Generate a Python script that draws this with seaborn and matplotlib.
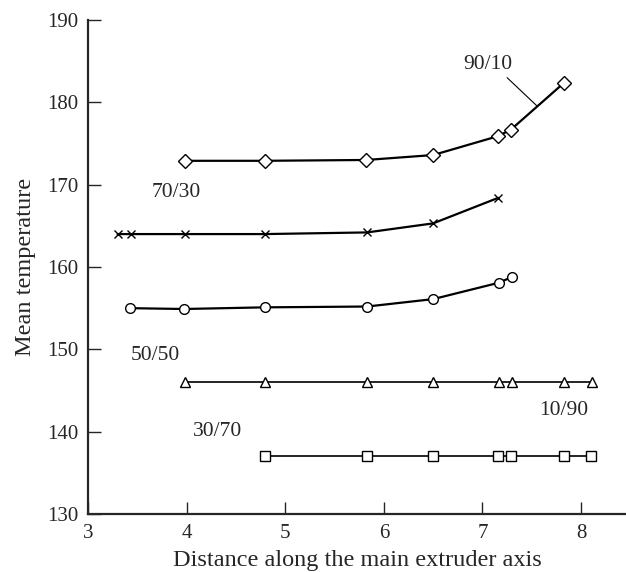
import matplotlib
matplotlib.use("Agg")
import matplotlib.pyplot as plt
import seaborn as sns
import pandas as pd

# ---- data ----
x_9010 = [3.98, 4.79, 5.82, 6.50, 7.16, 7.29, 7.83]
y_9010 = [172.9, 172.9, 173.0, 173.6, 175.9, 176.7, 182.4]

x_7030 = [3.30, 3.44, 3.98, 4.79, 5.83, 6.50, 7.16]
y_7030 = [164.0, 164.0, 164.0, 164.0, 164.2, 165.3, 168.4]

x_5050 = [3.43, 3.97, 4.79, 5.83, 6.50, 7.17, 7.30]
y_5050 = [155.0, 154.9, 155.1, 155.2, 156.1, 158.1, 158.8]

x_1090 = [3.98, 4.79, 5.83, 6.50, 7.17, 7.30, 7.83, 8.11]
y_1090 = [146.0, 146.0, 146.0, 146.0, 146.0, 146.0, 146.0, 146.0]

x_3070 = [4.79, 5.83, 6.50, 7.16, 7.29, 7.83, 8.10]
y_3070 = [137.0, 137.0, 137.0, 137.0, 137.0, 137.0, 137.0]

series_names = ["90/10", "70/30", "50/50", "10/90", "30/70"]
series_markers = ["D", "x", "o", "^", "s"]

y_ticks = [130, 140, 150, 160, 170, 180, 190]
x_ticks = [3, 4, 5, 6, 7, 8]

sns.set_style("ticks")
plt.rcParams["font.family"] = ["Liberation Serif", "DejaVu Serif"]
plt.rcParams["font.size"] = 15

fig = plt.figure(figsize=(6.26, 5.72), dpi=100)
ax = fig.add_axes([0.1406, 0.1014, 0.8594, 0.8636])

data = {
    "90/10": (x_9010, y_9010),
    "70/30": (x_7030, y_7030),
    "50/50": (x_5050, y_5050),
    "10/90": (x_1090, y_1090),
    "30/70": (x_3070, y_3070),
}
sizes = {"D": 7.5, "x": 6, "o": 7, "^": 7.5, "s": 6.5}
lws = {"90/10": 1.6, "70/30": 1.6, "50/50": 1.6, "10/90": 1.2, "30/70": 1.2}

for name, mk in zip(series_names, series_markers):
    xs, ys = data[name]
    df = pd.DataFrame({"x": xs, "y": ys})
    sns.lineplot(data=df, x="x", y="y", ax=ax, color="black", linewidth=lws[name],
                 marker=mk, markersize=sizes[mk], markerfacecolor="white",
                 markeredgecolor="black", markeredgewidth=1.0, sort=False,
                 estimator=None)

# labels for series
lbl_fs = 15.5
ax.text(7.05, 184.6, "90/10", ha="center", va="center", fontsize=lbl_fs)
ax.plot([7.25, 7.55], [183.0, 179.6], color="black", linewidth=0.8)
ax.text(3.89, 169.1, "70/30", ha="center", va="center", fontsize=lbl_fs)
ax.text(3.68, 149.2, "50/50", ha="center", va="center", fontsize=lbl_fs)
ax.text(4.31, 140.0, "30/70", ha="center", va="center", fontsize=lbl_fs)
ax.text(7.82, 142.6, "10/90", ha="center", va="center", fontsize=lbl_fs)

ax.set_xlim(3, 8.456)
ax.set_ylim(130, 190)
ax.set_xticks(x_ticks)
ax.set_yticks(y_ticks)
ax.tick_params(direction="in", length=9, width=1.0, labelsize=15, pad=7)
ax.set_xlabel("Distance along the main extruder axis", fontsize=17.5, labelpad=5)
ax.set_ylabel("Mean temperature", fontsize=17.5, labelpad=8)
for s in ["top", "right"]:
    ax.spines[s].set_visible(False)
for s in ["left", "bottom"]:
    ax.spines[s].set_linewidth(1.6)

fig.savefig("out.png", dpi=100)
